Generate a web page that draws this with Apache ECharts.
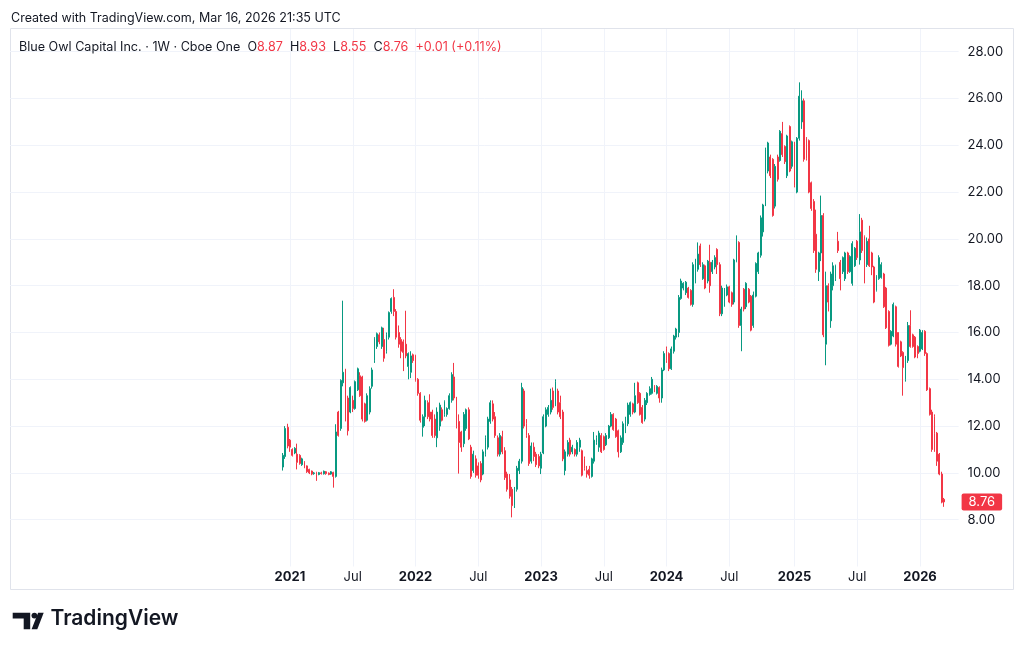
<!DOCTYPE html>
<html lang="en">

<head>
    <meta charset="UTF-8">
    <title>Blue Owl Capital Inc. · 1W · Cboe One</title>
    <script src="https://cdn.jsdelivr.net/npm/echarts@6.0.0/dist/echarts.min.js"></script>
    <style>
        html, body { margin: 0; padding: 0; background: #fff; }
        #myCharts { width: 1024px; height: 653px; }
    </style>
</head>

<body>
    <div id="myCharts"></div>

    <script type="text/javascript">
        // weekly bars, each row is [open, close, low, high]
        var bars2020 = [
            [10.25, 10.75, 10.1, 10.85], [10.7, 11.9, 10.6, 12.0], [11.95, 11.15, 11.05, 12.1]
        ]
        var bars2021 = [
            [11.4, 11.1, 10.9, 11.45], [11.0, 10.75, 10.7, 11.05], [10.85, 11.05, 10.8, 11.1], [10.8, 10.45, 10.15, 11.25],
            [10.75, 10.4, 10.35, 10.8], [10.35, 10.6, 10.3, 10.65], [10.45, 10.25, 10.2, 10.5], [10.3, 10.05, 10.0, 10.32],
            [10.15, 10.0, 9.95, 10.18], [10.08, 9.95, 9.9, 10.1], [9.97, 10.0, 9.92, 10.04], [10.02, 9.95, 9.66, 10.05],
            [9.93, 10.01, 9.9, 10.04], [10.0, 9.97, 9.93, 10.05], [9.96, 10.07, 9.93, 10.1], [10.05, 9.97, 9.92, 10.08],
            [9.99, 9.93, 9.9, 10.02], [9.95, 10.05, 9.92, 10.08], [10.02, 9.85, 9.37, 10.05], [9.85, 11.75, 9.8, 12.08],
            [12.6, 11.6, 11.55, 12.65], [11.9, 13.95, 11.8, 14.0], [13.85, 14.3, 13.7, 17.36], [14.4, 13.2, 12.2, 14.45],
            [13.2, 11.8, 11.6, 13.3], [12.6, 13.65, 12.55, 13.7], [13.1, 12.75, 12.6, 13.3], [12.75, 13.9, 12.7, 13.95],
            [13.55, 14.45, 13.5, 14.5], [14.15, 13.3, 13.25, 14.3], [14.1, 12.3, 12.2, 14.15], [12.95, 12.2, 12.15, 13.0],
            [12.25, 13.3, 12.2, 13.4], [12.6, 13.6, 12.5, 13.7], [13.7, 14.4, 13.6, 14.5], [14.8, 15.75, 14.7, 15.8],
            [15.4, 15.95, 15.3, 16.0], [15.9, 15.6, 15.5, 16.0], [15.4, 16.2, 15.3, 16.25], [15.7, 14.9, 14.75, 16.2],
            [15.2, 15.9, 15.1, 16.0], [15.8, 16.85, 15.7, 16.9], [16.9, 17.45, 16.8, 17.5], [17.5, 16.9, 16.7, 17.85],
            [16.9, 15.8, 15.7, 17.0], [16.0, 15.5, 15.35, 16.3], [15.7, 15.2, 14.9, 15.8], [15.6, 15.15, 14.35, 15.7],
            [15.5, 15.0, 14.9, 16.93], [14.55, 15.1, 14.0, 15.15], [14.3, 15.0, 14.05, 15.2], [15.05, 14.8, 14.7, 15.1]
        ]
        var bars2022 = [
            [15.0, 13.95, 13.9, 15.05], [14.0, 13.4, 13.3, 14.05], [13.4, 12.25, 12.15, 13.45], [11.95, 12.4, 11.55, 12.5],
            [12.4, 13.1, 12.0, 13.3], [13.0, 12.4, 12.3, 13.1], [12.6, 12.3, 12.2, 13.36], [12.6, 11.6, 11.5, 12.7],
            [12.3, 11.6, 11.5, 12.5], [11.5, 12.6, 11.1, 12.8], [12.0, 12.9, 11.8, 13.0], [12.7, 12.25, 12.2, 12.8],
            [12.5, 13.05, 12.4, 13.1], [12.5, 12.75, 12.4, 12.8], [12.75, 13.3, 12.7, 13.4], [13.1, 14.2, 13.0, 14.3],
            [14.1, 13.2, 13.1, 14.7], [13.2, 12.0, 11.9, 13.25], [12.2, 11.3, 9.97, 12.5], [11.75, 11.1, 10.9, 11.8],
            [11.25, 12.5, 11.1, 12.6], [11.9, 12.7, 11.8, 12.75], [12.7, 11.45, 11.4, 12.8], [11.1, 9.85, 9.75, 11.2],
            [10.1, 10.8, 10.0, 10.95], [10.6, 9.9, 9.8, 10.75], [10.3, 9.9, 9.75, 10.45], [10.4, 9.7, 9.6, 10.5],
            [9.95, 10.9, 9.9, 11.0], [10.8, 11.5, 10.7, 11.6], [11.1, 12.3, 11.0, 12.4], [12.2, 13.0, 12.1, 13.1],
            [12.95, 12.3, 12.2, 13.1], [12.4, 11.6, 11.5, 12.6], [11.5, 10.8, 10.7, 11.6], [10.8, 11.6, 10.7, 11.7],
            [11.55, 10.9, 10.8, 11.8], [10.95, 9.8, 9.7, 11.1], [9.95, 9.3, 9.2, 10.05], [9.7, 9.0, 8.9, 9.95],
            [9.3, 8.6, 8.1, 9.4], [8.6, 9.3, 8.5, 9.4], [9.3, 10.2, 9.2, 10.3], [10.1, 10.5, 9.95, 10.6],
            [10.5, 13.65, 10.4, 13.85], [13.5, 12.0, 11.9, 13.6], [12.1, 11.6, 11.5, 12.3], [11.6, 10.4, 10.3, 11.7],
            [10.5, 11.15, 10.4, 11.3], [11.1, 10.7, 10.5, 11.3], [10.8, 10.35, 10.25, 10.9], [10.7, 10.3, 10.2, 10.8]
        ]
        var bars2023 = [
            [10.2, 10.8, 9.95, 10.9], [10.85, 12.4, 10.8, 12.5], [12.0, 12.7, 11.95, 12.8], [12.5, 12.8, 12.4, 12.9],
            [12.6, 13.1, 12.5, 13.6], [13.5, 12.8, 12.7, 13.65], [12.9, 13.9, 12.85, 14.0], [13.5, 12.6, 12.5, 13.6],
            [13.0, 12.4, 12.3, 13.3], [12.6, 10.6, 10.5, 12.7], [10.1, 10.9, 9.9, 11.0], [10.8, 11.3, 10.7, 11.4],
            [11.4, 10.8, 10.7, 11.5], [10.9, 11.1, 10.8, 11.2], [11.0, 10.8, 10.7, 11.05], [10.8, 11.3, 10.7, 11.4],
            [11.1, 11.4, 10.9, 11.5], [10.95, 9.9, 9.85, 11.0], [10.6, 10.2, 10.1, 10.7], [10.1, 9.95, 9.8, 10.3],
            [10.15, 9.9, 9.75, 10.3], [9.85, 10.6, 9.8, 10.65], [10.5, 11.4, 10.4, 11.75], [11.3, 11.5, 11.2, 11.6],
            [11.1, 11.7, 10.9, 11.8], [11.6, 10.9, 10.85, 11.7], [11.55, 11.0, 10.95, 11.6], [11.2, 11.6, 11.15, 11.7],
            [11.5, 12.0, 11.45, 12.05], [12.0, 12.5, 11.95, 12.6], [12.5, 11.85, 11.8, 12.55], [12.3, 11.55, 11.5, 12.35],
            [11.8, 10.9, 10.66, 11.85], [10.9, 11.5, 10.85, 11.6], [11.3, 12.1, 11.2, 12.2], [12.0, 12.3, 11.7, 12.4],
            [12.1, 12.9, 12.0, 13.0], [12.5, 13.0, 12.4, 13.05], [12.95, 12.6, 12.5, 13.0], [12.6, 13.3, 12.55, 13.85],
            [13.85, 13.0, 12.95, 13.9], [13.4, 12.5, 12.45, 13.45], [12.8, 12.15, 12.1, 12.9], [12.3, 13.1, 12.2, 13.2],
            [13.0, 13.4, 12.9, 13.45], [13.35, 13.6, 13.3, 13.7], [13.4, 14.0, 13.35, 14.1], [13.7, 13.5, 13.45, 13.75],
            [13.4, 13.7, 13.35, 13.75], [13.65, 13.2, 13.0, 13.7], [13.2, 14.4, 13.0, 14.5], [14.4, 15.1, 14.35, 15.2]
        ]
        var bars2024 = [
            [15.3, 14.8, 14.7, 15.4], [15.1, 14.45, 14.35, 15.15], [14.45, 15.3, 14.4, 15.4], [15.2, 15.85, 15.1, 15.9],
            [15.8, 16.15, 15.7, 16.2], [16.0, 17.5, 15.8, 17.6], [17.45, 18.2, 17.4, 18.3], [17.9, 18.1, 17.8, 18.15],
            [17.7, 18.15, 17.6, 18.2], [17.9, 17.5, 17.45, 17.95], [17.8, 17.2, 17.15, 17.85], [17.2, 18.9, 17.1, 19.0],
            [18.2, 19.1, 18.1, 19.15], [18.7, 19.35, 18.6, 19.85], [19.7, 18.9, 18.8, 19.8], [18.3, 18.9, 18.25, 19.0],
            [18.85, 17.9, 17.85, 18.9], [18.2, 19.05, 18.1, 19.1], [19.0, 18.0, 17.7, 19.75], [18.6, 19.0, 18.5, 19.1],
            [18.8, 19.2, 18.7, 19.3], [19.55, 18.9, 18.5, 19.6], [18.9, 16.8, 16.7, 19.0], [16.8, 17.9, 16.7, 18.0],
            [17.4, 17.85, 17.1, 17.9], [17.6, 17.95, 17.55, 18.05], [17.95, 17.3, 17.25, 18.0], [17.7, 17.2, 17.1, 17.75],
            [17.3, 19.1, 17.2, 19.15], [19.05, 19.9, 19.0, 20.15], [19.85, 16.3, 16.2, 19.9], [16.3, 17.0, 15.2, 17.1],
            [17.85, 17.0, 16.9, 17.9], [17.1, 18.1, 17.0, 18.15], [17.85, 17.3, 17.25, 17.9], [17.55, 16.1, 16.05, 17.6],
            [16.3, 17.6, 16.2, 17.75], [17.55, 18.95, 17.5, 19.0], [18.6, 19.4, 18.5, 19.45], [19.3, 20.9, 19.2, 21.0],
            [20.3, 21.45, 20.1, 21.5], [21.45, 23.8, 21.4, 23.9], [22.9, 24.1, 22.8, 24.15], [23.5, 22.7, 22.6, 23.6],
            [23.4, 21.0, 20.95, 23.45], [21.4, 23.1, 21.3, 23.2], [23.5, 22.55, 22.45, 23.6], [23.35, 24.6, 23.3, 24.65],
            [24.5, 23.6, 23.5, 25.0], [23.95, 23.3, 23.2, 24.0], [22.7, 24.4, 22.6, 24.45], [24.8, 22.9, 22.85, 24.85],
            [23.1, 24.15, 23.0, 24.2]
        ]
        var bars2025 = [
            [24.1, 22.3, 22.2, 24.15], [22.0, 24.3, 21.95, 24.35], [24.3, 26.1, 24.2, 26.69], [25.0, 25.9, 24.7, 26.35],
            [25.9, 23.4, 23.3, 26.0], [24.3, 23.45, 23.35, 24.35], [24.2, 22.0, 21.95, 24.25], [22.4, 21.3, 21.2, 22.45],
            [21.6, 19.5, 19.4, 21.7], [20.2, 18.7, 18.55, 21.25], [18.6, 19.4, 18.2, 19.45], [19.4, 21.0, 19.05, 21.85],
            [21.0, 15.9, 15.8, 21.1], [15.5, 18.0, 14.6, 18.6], [18.0, 17.3, 16.9, 18.1], [16.5, 18.5, 16.2, 18.6],
            [18.0, 18.85, 17.8, 19.0], [18.3, 18.85, 18.2, 18.9], [19.9, 19.5, 19.4, 20.3], [19.0, 18.3, 17.8, 19.1],
            [18.6, 19.2, 18.5, 19.25], [18.3, 19.4, 18.2, 19.45], [19.4, 18.6, 18.5, 19.45], [18.6, 19.25, 18.55, 19.3],
            [18.1, 19.8, 18.0, 19.9], [18.85, 19.6, 18.8, 19.65], [19.9, 19.2, 19.1, 19.95], [19.1, 20.3, 18.9, 21.06],
            [20.8, 19.5, 19.4, 20.9], [20.1, 18.2, 18.1, 20.15], [18.9, 19.9, 18.8, 20.06], [20.0, 18.85, 18.8, 20.56],
            [19.4, 18.8, 18.45, 19.45], [18.8, 17.3, 17.25, 18.85], [17.8, 18.4, 17.75, 18.45], [18.3, 19.2, 18.25, 19.3],
            [18.35, 18.9, 18.3, 19.0], [18.5, 17.1, 17.05, 18.55], [17.9, 16.2, 16.15, 17.95], [16.9, 15.45, 15.4, 16.95],
            [15.5, 16.05, 15.45, 16.1], [15.85, 17.2, 15.8, 17.28], [17.1, 15.5, 15.4, 17.15], [16.0, 14.55, 14.5, 16.0],
            [15.6, 15.0, 14.95, 15.65], [15.15, 14.5, 13.3, 15.2], [14.0, 14.95, 13.9, 15.0], [14.8, 16.3, 14.7, 16.45],
            [16.3, 15.4, 15.35, 16.95], [15.9, 15.4, 15.35, 15.95], [15.8, 14.95, 14.9, 15.85], [15.4, 15.1, 14.9, 15.45]
        ]
        var bars2026 = [
            [15.2, 16.1, 15.15, 16.15], [15.3, 16.0, 15.25, 16.1], [16.05, 15.1, 15.0, 16.1], [15.1, 13.55, 13.5, 15.15],
            [13.6, 12.5, 12.45, 13.65], [12.6, 11.0, 10.9, 12.7], [12.4, 11.7, 10.9, 12.5], [11.7, 10.5, 10.3, 11.75],
            [10.8, 9.95, 9.9, 10.85], [9.95, 8.75, 8.7, 10.05], [8.87, 8.76, 8.55, 8.93]
        ]
        var priceTicks = [8, 10, 12, 14, 16, 18, 20, 22, 24, 26, 28]

        var bars = [].concat(bars2020, bars2021, bars2022, bars2023, bars2024, bars2025, bars2026)
        var firstWeek = Date.UTC(2020, 11, 14) // monday of the first bar
        var padBefore = 113, padAfter = 6
        var weekMs = 7 * 24 * 3600 * 1000
        var weeks = []
        var data = []
        for (let k = 0; k < padBefore + bars.length + padAfter; k++) {
            weeks.push(new Date(firstWeek + (k - padBefore) * weekMs).toISOString().slice(0, 10))
            data.push(bars[k - padBefore] || '-')
        }

        var last = bars[bars.length - 1]
        var prevClose = bars[bars.length - 2][1]
        var chg = last[1] - prevClose
        var sign = chg >= 0 ? '+' : '-'
        var headLine = '{n|Blue Owl Capital Inc. · 1W · Cboe One}  {k|O}{v|' + last[0].toFixed(2) + '}  {k|H}{v|' + last[3].toFixed(2) +
            '}  {k|L}{v|' + last[2].toFixed(2) + '}  {k|C}{v|' + last[1].toFixed(2) + '}  {v|' + sign + Math.abs(chg).toFixed(2) +
            ' (' + sign + Math.abs(chg / prevClose * 100).toFixed(2) + '%)}'

        var font = 'Inter, "Noto Sans", sans-serif'
        var up = '#089981', down = '#f23645', ink = '#131722', grid = '#f0f3fa'

        // label only on first week of january / july
        function isTimeLabel(index, value) {
            if (index < padBefore || index >= padBefore + bars.length) return false
            var m = value.slice(5, 7), d = +value.slice(8, 10)
            return d <= 7 && (m === '01' || m === '07')
        }

        var myChart = echarts.init(document.getElementById('myCharts'))
        var option = {
            animation: false,
            backgroundColor: '#fff',
            title: [
                {
                    text: 'Created with TradingView.com, Mar 16, 2026 21:35 UTC',
                    left: 11, top: 10, padding: 0,
                    textStyle: { fontFamily: font, fontSize: 12.5, fontWeight: 'normal', color: ink, lineHeight: 16 }
                },
                {
                    text: headLine,
                    left: 19, top: 39, padding: 0,
                    textStyle: {
                        fontFamily: font, fontSize: 12.6, fontWeight: 'normal', color: ink, lineHeight: 16,
                        rich: {
                            n: { fontFamily: font, fontSize: 12.6, color: ink },
                            k: { fontFamily: font, fontSize: 12.6, color: ink },
                            v: { fontFamily: font, fontSize: 12.6, color: down }
                        }
                    }
                }
            ],
            grid: {
                left: 10,
                right: 65.4,
                top: 29,
                bottom: 86.5
            },
            xAxis: {
                type: 'category',
                data: weeks,
                boundaryGap: false,
                axisLine: { show: false },
                axisTick: { show: false },
                axisLabel: {
                    interval: isTimeLabel,
                    margin: 4,
                    color: ink,
                    fontFamily: font,
                    fontSize: 13,
                    formatter: function (value) {
                        return value.slice(5, 7) === '01' ? '{y|' + value.slice(0, 4) + '}' : 'Jul'
                    },
                    rich: {
                        y: { fontFamily: font, fontSize: 13, fontWeight: 'bold', color: ink }
                    }
                },
                splitLine: {
                    show: true,
                    interval: isTimeLabel,
                    lineStyle: { color: grid, width: 1 }
                }
            },
            yAxis: {
                type: 'value',
                position: 'right',
                min: 6,
                max: 28.97,
                interval: 2,
                axisLine: { show: false },
                axisTick: { show: false },
                axisLabel: {
                    margin: 9,
                    color: ink,
                    fontFamily: font,
                    fontSize: 13,
                    formatter: function (v) {
                        return priceTicks.indexOf(Math.round(v * 100) / 100) >= 0 ? v.toFixed(2) : ''
                    }
                },
                splitLine: {
                    show: true,
                    showMinLine: false,
                    showMaxLine: false,
                    lineStyle: { color: grid, width: 1 }
                }
            },
            series: [
                {
                    name: 'OWL',
                    type: 'candlestick',
                    data: data,
                    barWidth: 1.4,
                    itemStyle: {
                        color: up,
                        color0: down,
                        borderColor: up,
                        borderColor0: down,
                        borderWidth: 1
                    },
                    markLine: {
                        silent: true,
                        symbol: ['none', 'none'],
                        lineStyle: { width: 1, color: 'rgba(0,0,0,0)', type: 'solid' },
                        label: {
                            show: true,
                            position: 'end',
                            distance: 3,
                            formatter: last[1].toFixed(2),
                            backgroundColor: down,
                            color: '#fff',
                            fontFamily: font,
                            fontSize: 13,
                            lineHeight: 13,
                            padding: [2, 7, 2, 7],
                            borderRadius: 2
                        },
                        emphasis: { disabled: true },
                        data: [{ yAxis: last[1] }]
                    }
                }
            ],
            graphic: [
                {
                    // chart frame
                    type: 'rect', silent: true, z: -1,
                    shape: { x: 10.5, y: 28.5, width: 1003, height: 561 },
                    style: { fill: 'none', stroke: '#e0e3eb', lineWidth: 1 }
                },
                {
                    type: 'group', left: 12.7, top: 612.7, silent: true,
                    children: [
                        { type: 'polygon', shape: { points: [[0, 0], [17.5, 0], [17.5, 16.6], [11, 16.6], [11, 5.8], [0, 5.8]] }, style: { fill: ink } },
                        { type: 'circle', shape: { cx: 21.7, cy: 2.9, r: 2.9 }, style: { fill: ink } },
                        { type: 'polygon', shape: { points: [[25.4, 0], [31, 0], [24.6, 16.6], [18.9, 16.6]] }, style: { fill: ink } }
                    ]
                },
                {
                    type: 'text', left: 50.5, top: 608.5, silent: true,
                    style: { text: 'TradingView', fontFamily: font, fontSize: 21, fontWeight: 600, fill: ink }
                }
            ]
        }
        myChart.setOption(option)
    </script>
</body>

</html>
